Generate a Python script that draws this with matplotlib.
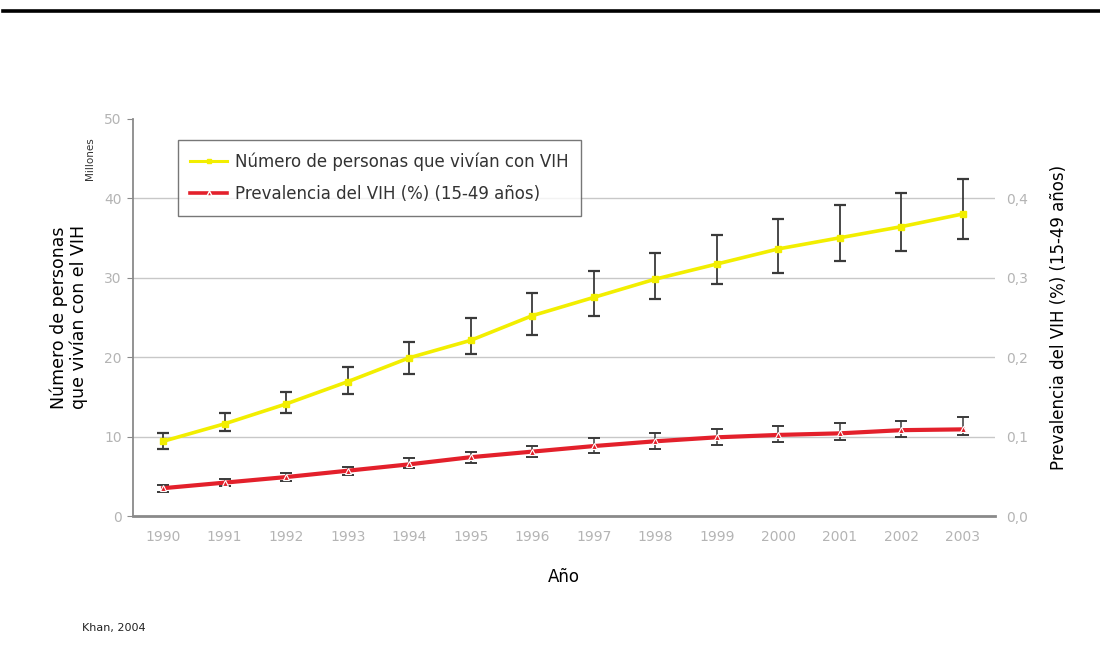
import matplotlib
matplotlib.use("Agg")
import matplotlib.pyplot as plt
from matplotlib.lines import Line2D
from matplotlib.ticker import FuncFormatter

# Personas que viven con VIH (millones) y prevalencia (%) 15-49 años
years = [1990, 1991, 1992, 1993, 1994, 1995, 1996,
         1997, 1998, 1999, 2000, 2001, 2002, 2003]
people = [9.4, 11.6, 14.1, 16.9, 19.9, 22.1, 25.2,
          27.5, 29.8, 31.7, 33.6, 35.0, 36.4, 38.0]
people_low = [8.4, 10.7, 13.0, 15.3, 17.9, 20.4, 22.8,
              25.2, 27.3, 29.2, 30.6, 32.1, 33.3, 34.8]
people_high = [10.4, 13.0, 15.6, 18.7, 21.9, 24.9, 28.1,
               30.8, 33.1, 35.3, 37.4, 39.1, 40.6, 42.4]

prevalence = [0.035, 0.042, 0.049, 0.057, 0.065, 0.074, 0.081,
              0.088, 0.094, 0.099, 0.102, 0.104, 0.108, 0.109]
prev_low = [0.030, 0.038, 0.044, 0.051, 0.060, 0.067, 0.074,
            0.079, 0.084, 0.089, 0.093, 0.096, 0.099, 0.102]
prev_high = [0.039, 0.046, 0.054, 0.062, 0.073, 0.080, 0.088,
             0.098, 0.104, 0.109, 0.113, 0.117, 0.119, 0.124]

left_ticks = [0, 10, 20, 30, 40, 50]
right_ticks = [0.0, 0.1, 0.2, 0.3, 0.4]

YELLOW = "#f2ee00"
RED = "#e3202b"
ERR = "#3a3a3a"
TICK = "#b4b4b4"
SPINE = "#8a8a8a"

plt.rcParams["font.family"] = ["DejaVu Sans"]

fig = plt.figure(figsize=(11, 6.49), dpi=100)
ax = fig.add_axes([0.1209, 0.2049, 0.7836, 0.6125])
ax2 = ax.twinx()

# Yellow series on left axis
yerr_people = [[p - lo for p, lo in zip(people, people_low)],
               [hi - p for p, hi in zip(people, people_high)]]
ax.errorbar(years, people, yerr=yerr_people, fmt="none", ecolor=ERR,
            elinewidth=1.3, capsize=4.5, capthick=1.6, zorder=3)
ax.plot(years, people, color=YELLOW, lw=2.6, marker="s", ms=5,
        mfc=YELLOW, mec=YELLOW, zorder=4)

# Red series on right axis
yerr_prev = [[p - lo for p, lo in zip(prevalence, prev_low)],
             [hi - p for p, hi in zip(prevalence, prev_high)]]
ax2.errorbar(years, prevalence, yerr=yerr_prev, fmt="none", ecolor=ERR,
             elinewidth=1.1, capsize=4, capthick=1.4, zorder=3)
ax2.plot(years, prevalence, color=RED, lw=3.0, marker="^", ms=5,
         mfc=RED, mec="white", mew=0.8, zorder=4)

ax.set_xlim(1989.51, 2003.52)
ax.set_ylim(0, 50)
ax2.set_ylim(0, 0.5)

ax.set_yticks(left_ticks)
ax.set_xticks(years)
ax2.set_yticks(right_ticks)
ax2.yaxis.set_major_formatter(FuncFormatter(lambda v, _: f"{v:.1f}".replace(".", ",")))

for y in left_ticks[1:-1]:
    ax.axhline(y, color="#c8c8c8", lw=1.0, zorder=1)

for a in (ax, ax2):
    for s in ("top", "right"):
        a.spines[s].set_visible(False)
ax2.spines["left"].set_visible(False)
ax2.spines["bottom"].set_visible(False)
ax.spines["left"].set_color(SPINE)
ax.spines["bottom"].set_color(SPINE)
ax.spines["left"].set_linewidth(1.3)
ax.spines["bottom"].set_linewidth(2.0)

ax.tick_params(axis="y", length=4, color=SPINE, labelcolor=TICK, labelsize=10, pad=4)
ax.tick_params(axis="x", length=0, labelcolor=TICK, labelsize=10, pad=10)
ax2.tick_params(axis="y", length=0, labelcolor=TICK, labelsize=10, pad=8)

ax.set_xlabel("Año", fontsize=12, labelpad=17)
ax.set_ylabel("Número de personas\nque vivían con el VIH", fontsize=12.5,
              labelpad=12, linespacing=1.1)
ax2.set_ylabel("Prevalencia del VIH (%) (15-49 años)", fontsize=12,
               rotation=90, labelpad=16)

fig.text(0.082, 0.755, "Millones", rotation=90, fontsize=7.5,
         color="#333333", ha="center", va="center")
fig.text(0.075, 0.032, "Khan, 2004", fontsize=8, color="#222222",
         ha="left", va="center")

# Rule across the top of the page
fig.add_artist(Line2D([0.003, 1.0], [0.983, 0.983], color="black", lw=2.6,
                      transform=fig.transFigure))

handles = [
    Line2D([], [], color=YELLOW, lw=2.2, marker="s", ms=3.5, mfc=YELLOW, mec=YELLOW),
    Line2D([], [], color=RED, lw=2.6, marker="^", ms=3.5, mfc=RED, mec="white"),
]
labels = ["Número de personas que vivían con VIH",
          "Prevalencia del VIH (%) (15-49 años)"]
leg = ax2.legend(handles, labels, loc="upper left", bbox_to_anchor=(0.052, 0.946),
                 borderaxespad=0, fontsize=12, frameon=True, fancybox=False,
                 edgecolor="#555555", handlelength=2.2, handletextpad=0.5,
                 labelspacing=0.85, borderpad=0.75, labelcolor="#333333")
leg.get_frame().set_linewidth(1.0)
leg.set_zorder(10)

fig.savefig("out.png", dpi=100, facecolor="white")
